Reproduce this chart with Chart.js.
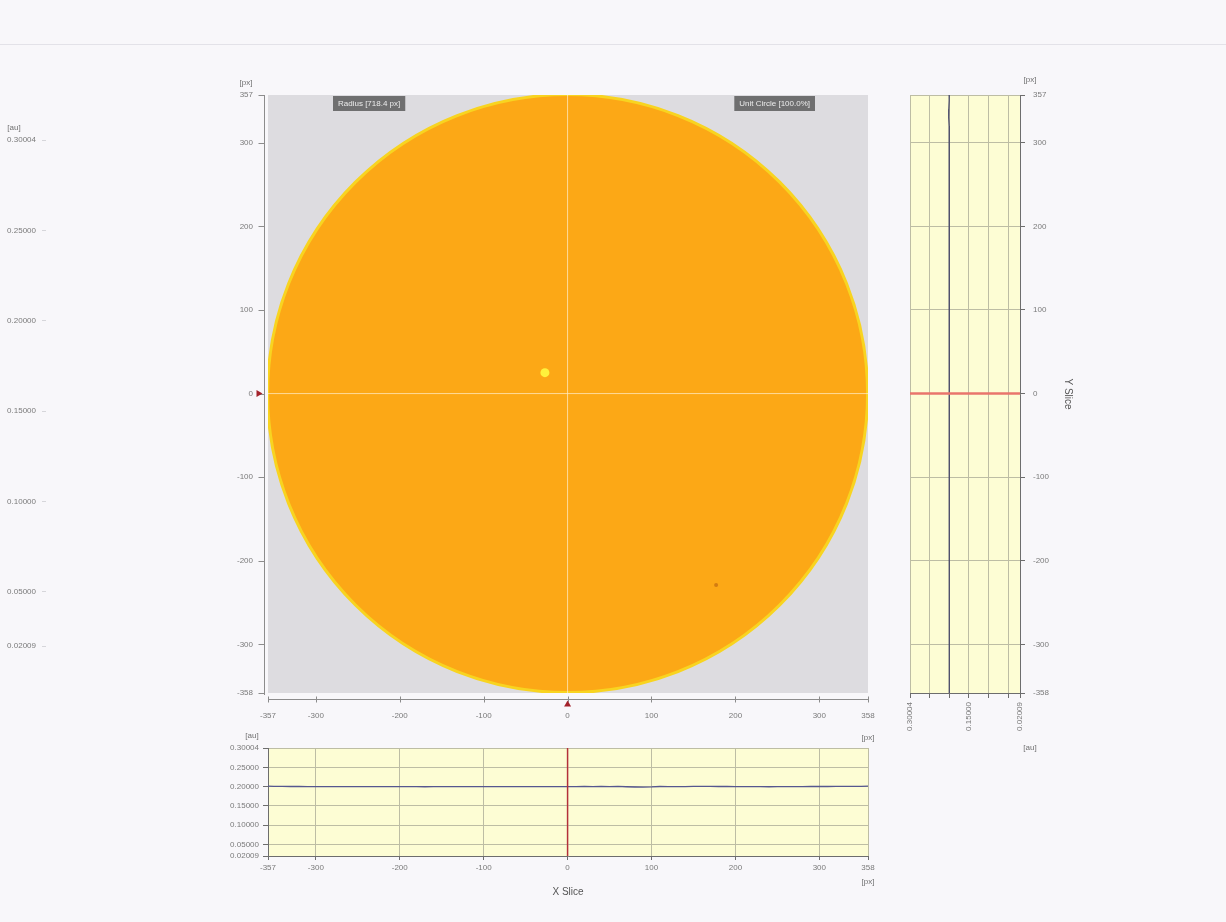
<!DOCTYPE html>
<html>
<head>
<meta charset="utf-8">
<title>Solar disk – X / Y slices</title>
<script src="https://cdn.jsdelivr.net/npm/chart.js@4"></script>
<style>
  html, body { margin: 0; padding: 0; background: #f8f7fa; }
  #page { position: relative; width: 1226px; height: 922px; overflow: hidden; background: #f8f7fa; }
  #page .rule { position: absolute; left: 0; top: 44px; width: 1226px; height: 1px; background: #e3e2e8; }
  canvas { position: absolute; left: 0; top: 0; }
</style>
</head>
<body>
<div id="page">
  <div class="rule"></div>
  <canvas id="cbar" width="1226" height="922"></canvas>
  <canvas id="img" width="1226" height="922"></canvas>
  <canvas id="xslice" width="1226" height="922"></canvas>
  <canvas id="yslice" width="1226" height="922"></canvas>
</div>
<script>
// ---- axis ticks ----
const pxTicksX = [-357, -300, -200, -100, 0, 100, 200, 300, 358];
const pxTicksY = [-358, -300, -200, -100, 0, 100, 200, 300, 357];
const auTicks = [0.02009, 0.05, 0.10, 0.15, 0.20, 0.25, 0.30004];
const ySliceLabelled = [0.02009, 0.15, 0.30004];

// ---- image content (px units) ----
const cursor = [0, 0];
const disk = [0, 0, 357.5];           // centre x, centre y, radius
const brightSpot = [{ x: -27, y: 25 }];
const darkSpot = [{ x: 177, y: -229 }];
const infoLabels = ['Radius [718.4 px]', 'Unit Circle [100.0%]'];

// ---- horizontal slice through y = 0 ----
const xSlicePos = [-357, -350, -340, -330, -320, -310, -300, -290, -280, -270, -260, -250,
  -240, -230, -220, -210, -200, -190, -180, -170, -160, -150, -140, -130, -120, -110,
  -100, -90, -80, -70, -60, -50, -40, -30, -20, -10, 0, 10, 20, 30, 40, 50, 60, 70, 80,
  90, 100, 110, 120, 130, 140, 150, 160, 170, 180, 190, 200, 210, 220, 230, 240, 250,
  260, 270, 280, 290, 300, 310, 320, 330, 340, 350, 358];
const xSliceVal = [0.2010, 0.2006, 0.2004, 0.2003, 0.2002, 0.2001, 0.2000, 0.1999, 0.2000,
  0.2001, 0.2000, 0.1999, 0.1998, 0.1999, 0.2000, 0.2001, 0.2001, 0.2000, 0.1998, 0.1996,
  0.1997, 0.1998, 0.1999, 0.2000, 0.2001, 0.2000, 0.1999, 0.2000, 0.2001, 0.2000, 0.1999,
  0.2000, 0.2001, 0.2000, 0.1999, 0.2000, 0.2001, 0.1998, 0.2002, 0.1997, 0.2003, 0.1998,
  0.2004, 0.1996, 0.1990, 0.1986, 0.1992, 0.2003, 0.2001, 0.1999, 0.2000, 0.2004, 0.2005,
  0.2004, 0.2003, 0.2002, 0.2001, 0.2000, 0.2000, 0.1998, 0.1996, 0.1997, 0.1999, 0.2000,
  0.2001, 0.2002, 0.2003, 0.2003, 0.2004, 0.2005, 0.2006, 0.2008, 0.2010];

// ---- vertical slice through x = 0 ----
const ySlicePos = [357, 350, 340, 330, 320, 310, 300, 290, 280, 270, 260, 250, 240, 230,
  220, 210, 200, 190, 180, 170, 160, 150, 140, 130, 120, 110, 100, 90, 80, 70, 60, 50, 40,
  30, 20, 10, 0, -10, -20, -30, -40, -50, -60, -70, -80, -90, -100, -110, -120, -130,
  -140, -150, -160, -170, -180, -190, -200, -210, -220, -230, -240, -250, -260, -270,
  -280, -290, -300, -310, -320, -330, -340, -350, -358];
const ySliceVal = [0.2002, 0.2003, 0.2012, 0.2015, 0.2004, 0.2001, 0.2000, 0.2000, 0.1999,
  0.2000, 0.2001, 0.2000, 0.2000, 0.1999, 0.2006, 0.2004, 0.2000, 0.2001, 0.2000, 0.1999,
  0.2005, 0.2003, 0.2000, 0.2000, 0.1999, 0.2000, 0.2001, 0.2000, 0.2000, 0.1999, 0.2000,
  0.2001, 0.2000, 0.2002, 0.1998, 0.2001, 0.2000, 0.1999, 0.2001, 0.2000, 0.2000, 0.1999,
  0.2000, 0.2001, 0.2000, 0.2000, 0.1999, 0.2000, 0.2001, 0.2000, 0.2000, 0.1999, 0.2000,
  0.2000, 0.2001, 0.2000, 0.1999, 0.2000, 0.2001, 0.2000, 0.2000, 0.2004, 0.2006, 0.2002,
  0.2000, 0.1999, 0.2000, 0.2000, 0.2001, 0.2000, 0.1999, 0.2000, 0.2001];

// ---- shared styling ----
const FONT = "'Liberation Sans', Arial, sans-serif";
const tickFont = { family: FONT, size: 8 };
const tickColor = '#7a7a7a';
const plotBg = '#fdfdd4';
const gridCol = '#bdbda4';
const axisCol = '#6d6d6d';

const fixedTicks = list => scale => { scale.ticks = list.map(v => ({ value: v })); };
const fixW = w => scale => { scale.width = w; };
const fixH = h => scale => { scale.height = h; };
const auFmt = v => Number(v).toFixed(5);

function unitText(ctx, text, x, y, align) {
  ctx.save();
  ctx.font = `8px ${FONT}`;
  ctx.fillStyle = '#707070';
  ctx.textAlign = align || 'center';
  ctx.textBaseline = 'middle';
  ctx.fillText(text, x, y);
  ctx.restore();
}

const baseOpts = {
  responsive: false,
  animation: false,
  devicePixelRatio: 1,
  events: [],
  plugins: { legend: { display: false }, tooltip: { enabled: false } }
};

// ---------------- colour bar axis (left edge) ----------------
new Chart(document.getElementById('cbar'), {
  type: 'scatter',
  data: { datasets: [] },
  options: {
    ...baseOpts,
    layout: { padding: { left: 0, top: 140, right: 1166, bottom: 276 } },
    scales: {
      x: { display: false, min: 0, max: 1 },
      y: {
        position: 'left', min: auTicks[0], max: auTicks[auTicks.length - 1],
        afterBuildTicks: fixedTicks(auTicks), afterFit: fixW(46),
        border: { display: false },
        grid: { drawOnChartArea: false, tickLength: 4, color: '#d6d6da' },
        ticks: { padding: 6, font: tickFont, color: tickColor, callback: auFmt, autoSkip: false }
      }
    }
  },
  plugins: [{
    id: 'cbarUnit',
    afterDraw(chart) { unitText(chart.ctx, '[au]', 14, chart.chartArea.top - 12); }
  }]
});

// ---------------- solar image ----------------
const imagePlugin = {
  id: 'solarImage',
  beforeDatasetsDraw(chart) {
    const { ctx, chartArea: a, scales: { x, y } } = chart;
    ctx.save();
    ctx.fillStyle = '#dddce0';
    ctx.fillRect(a.left, a.top, a.width, a.height);
    ctx.beginPath();
    ctx.rect(a.left, a.top, a.width, a.height);
    ctx.clip();
    const cx = x.getPixelForValue(disk[0]);
    const cy = y.getPixelForValue(disk[1]);
    const rx = Math.abs(x.getPixelForValue(disk[0] + disk[2]) - cx);
    const ry = Math.abs(y.getPixelForValue(disk[1] + disk[2]) - cy);
    ctx.beginPath();
    ctx.ellipse(cx, cy, rx, ry, 0, 0, Math.PI * 2);
    ctx.fillStyle = '#fca816';
    ctx.fill();
    ctx.lineWidth = 3;
    ctx.strokeStyle = '#f8d420';
    ctx.stroke();
    ctx.restore();
  },
  afterDatasetsDraw(chart) {
    const { ctx, chartArea: a } = chart;
    ctx.save();
    ctx.font = `8px ${FONT}`;
    ctx.textBaseline = 'middle';
    const boxes = [
      { text: infoLabels[0], left: a.left + 65 },
      { text: infoLabels[1], right: a.right - 53 }
    ];
    boxes.forEach(b => {
      const w = ctx.measureText(b.text).width + 10;
      const left = b.left !== undefined ? b.left : b.right - w;
      ctx.fillStyle = '#6f6f70';
      ctx.fillRect(left, a.top + 1, w, 15);
      ctx.fillStyle = '#ececec';
      ctx.textAlign = 'left';
      ctx.fillText(b.text, left + 5, a.top + 9);
    });
    ctx.restore();
  },
  afterDraw(chart) {
    const { ctx, chartArea: a, scales: { x, y } } = chart;
    const axX = Math.round(a.left - 4) + 0.5;
    const axY = Math.round(a.bottom + 6) + 0.5;
    ctx.save();
    ctx.strokeStyle = '#8c8c8c';
    ctx.lineWidth = 1;
    ctx.beginPath();
    ctx.moveTo(axX, a.top); ctx.lineTo(axX, a.bottom + 2);
    ctx.moveTo(a.left, axY); ctx.lineTo(a.right, axY);
    y.ticks.forEach(t => {
      const p = Math.round(y.getPixelForValue(t.value)) + 0.5;
      ctx.moveTo(axX - 6, p); ctx.lineTo(axX, p);
    });
    x.ticks.forEach(t => {
      const p = Math.round(x.getPixelForValue(t.value)) + 0.5;
      ctx.moveTo(p, axY - 3); ctx.lineTo(p, axY + 3);
    });
    ctx.stroke();
    // cursor markers
    ctx.fillStyle = '#a3222b';
    const mx = x.getPixelForValue(cursor[0]);
    const my = y.getPixelForValue(cursor[1]);
    ctx.beginPath();
    ctx.moveTo(mx - 3.5, axY + 7); ctx.lineTo(mx + 3.5, axY + 7); ctx.lineTo(mx, axY + 1);
    ctx.closePath(); ctx.fill();
    ctx.beginPath();
    ctx.moveTo(axX - 8, my - 3.5); ctx.lineTo(axX - 8, my + 3.5); ctx.lineTo(axX - 2, my);
    ctx.closePath(); ctx.fill();
    ctx.restore();
    unitText(ctx, '[px]', a.left - 22, a.top - 12);
    unitText(ctx, '[px]', a.right, a.bottom + 45);
  }
};

new Chart(document.getElementById('img'), {
  type: 'scatter',
  data: {
    datasets: [
      { data: brightSpot, pointRadius: 4.5, pointBackgroundColor: '#fff23c', pointBorderWidth: 0 },
      { data: darkSpot, pointRadius: 2, pointBackgroundColor: '#d27c12', pointBorderWidth: 0 },
      { data: [{ x: cursor[0], y: pxTicksY[0] }, { x: cursor[0], y: pxTicksY[pxTicksY.length - 1] }],
        showLine: true, pointRadius: 0, borderWidth: 1, borderColor: 'rgba(255,236,200,0.75)' },
      { data: [{ x: pxTicksX[0], y: cursor[1] }, { x: pxTicksX[pxTicksX.length - 1], y: cursor[1] }],
        showLine: true, pointRadius: 0, borderWidth: 1, borderColor: 'rgba(255,236,200,0.75)' }
    ]
  },
  options: {
    ...baseOpts,
    layout: { padding: { left: 228, top: 95, right: 358, bottom: 189 } },
    scales: {
      x: {
        min: pxTicksX[0], max: pxTicksX[pxTicksX.length - 1],
        afterBuildTicks: fixedTicks(pxTicksX), afterFit: fixH(40),
        border: { display: false }, grid: { display: false, drawTicks: false },
        ticks: { padding: 18, font: tickFont, color: tickColor, maxRotation: 0, autoSkip: false }
      },
      y: {
        min: pxTicksY[0], max: pxTicksY[pxTicksY.length - 1],
        afterBuildTicks: fixedTicks(pxTicksY), afterFit: fixW(40),
        border: { display: false }, grid: { display: false, drawTicks: false },
        ticks: { padding: 15, font: tickFont, color: tickColor, autoSkip: false }
      }
    }
  },
  plugins: [imagePlugin]
});

// ---------------- plot background for the slices ----------------
const sliceBg = {
  id: 'sliceBg',
  beforeDraw(chart) {
    const { ctx, chartArea: a } = chart;
    ctx.save();
    ctx.fillStyle = plotBg;
    ctx.fillRect(a.left, a.top, a.width, a.height);
    ctx.restore();
  }
};

// ---------------- X slice ----------------
new Chart(document.getElementById('xslice'), {
  type: 'scatter',
  data: {
    datasets: [
      { data: [{ x: cursor[0], y: auTicks[0] }, { x: cursor[0], y: auTicks[auTicks.length - 1] }],
        showLine: true, pointRadius: 0, borderWidth: 1.5, borderColor: '#b3303a' },
      { data: xSlicePos.map((p, i) => ({ x: p, y: xSliceVal[i] })),
        showLine: true, pointRadius: 0, borderWidth: 1.3, borderColor: '#56578f', tension: 0 }
    ]
  },
  options: {
    ...baseOpts,
    layout: { padding: { left: 228, top: 748, right: 358, bottom: 24 } },
    scales: {
      x: {
        min: pxTicksX[0], max: pxTicksX[pxTicksX.length - 1],
        afterBuildTicks: fixedTicks(pxTicksX), afterFit: fixH(42),
        border: { display: true, color: axisCol },
        grid: { color: gridCol, tickLength: 4, tickColor: axisCol },
        ticks: { padding: 3, font: tickFont, color: tickColor, maxRotation: 0, autoSkip: false },
        title: { display: true, text: 'X Slice', color: '#555', font: { family: FONT, size: 10 },
                 padding: { top: 0, bottom: 0 } }
      },
      y: {
        min: auTicks[0], max: auTicks[auTicks.length - 1],
        afterBuildTicks: fixedTicks(auTicks), afterFit: fixW(40),
        border: { display: true, color: axisCol },
        grid: { color: gridCol, tickLength: 5, tickColor: axisCol },
        ticks: { padding: 4, font: tickFont, color: tickColor, callback: auFmt, autoSkip: false }
      }
    }
  },
  plugins: [sliceBg, {
    id: 'xsliceUnits',
    afterDraw(chart) {
      const a = chart.chartArea;
      unitText(chart.ctx, '[au]', a.left - 16, a.top - 12);
      unitText(chart.ctx, '[px]', a.right, a.bottom + 26);
    }
  }]
});

// ---------------- Y slice ----------------
new Chart(document.getElementById('yslice'), {
  type: 'scatter',
  data: {
    datasets: [
      { data: [{ x: auTicks[0], y: cursor[1] }, { x: auTicks[auTicks.length - 1], y: cursor[1] }],
        showLine: true, pointRadius: 0, borderWidth: 2.5, borderColor: '#e9756c' },
      { data: ySlicePos.map((p, i) => ({ x: ySliceVal[i], y: p })),
        showLine: true, pointRadius: 0, borderWidth: 1.3, borderColor: '#4a4b6a', tension: 0 }
    ]
  },
  options: {
    ...baseOpts,
    layout: { padding: { left: 910, top: 95, right: 152, bottom: 179 } },
    scales: {
      x: {
        reverse: true,
        min: auTicks[0], max: auTicks[auTicks.length - 1],
        afterBuildTicks: fixedTicks(auTicks), afterFit: fixH(50),
        border: { display: true, color: axisCol },
        grid: { color: gridCol, tickLength: 5, tickColor: axisCol },
        ticks: { padding: 4, font: tickFont, color: tickColor, minRotation: 90, maxRotation: 90,
                 autoSkip: false,
                 callback: v => ySliceLabelled.includes(v) ? auFmt(v) : '' }
      },
      y: {
        position: 'right',
        min: pxTicksY[0], max: pxTicksY[pxTicksY.length - 1],
        afterBuildTicks: fixedTicks(pxTicksY), afterFit: fixW(54),
        border: { display: true, color: axisCol },
        grid: { color: gridCol, tickLength: 5, tickColor: axisCol },
        ticks: { padding: 8, font: tickFont, color: tickColor, autoSkip: false },
        title: { display: true, text: 'Y Slice', color: '#555', font: { family: FONT, size: 10 },
                 padding: { top: 0, bottom: 0 } }
      }
    }
  },
  plugins: [sliceBg, {
    id: 'ysliceUnits',
    afterDraw(chart) {
      const a = chart.chartArea;
      unitText(chart.ctx, '[px]', a.right + 10, a.top - 15);
      unitText(chart.ctx, '[au]', a.right + 10, a.bottom + 55);
    }
  }]
});
</script>
</body>
</html>
